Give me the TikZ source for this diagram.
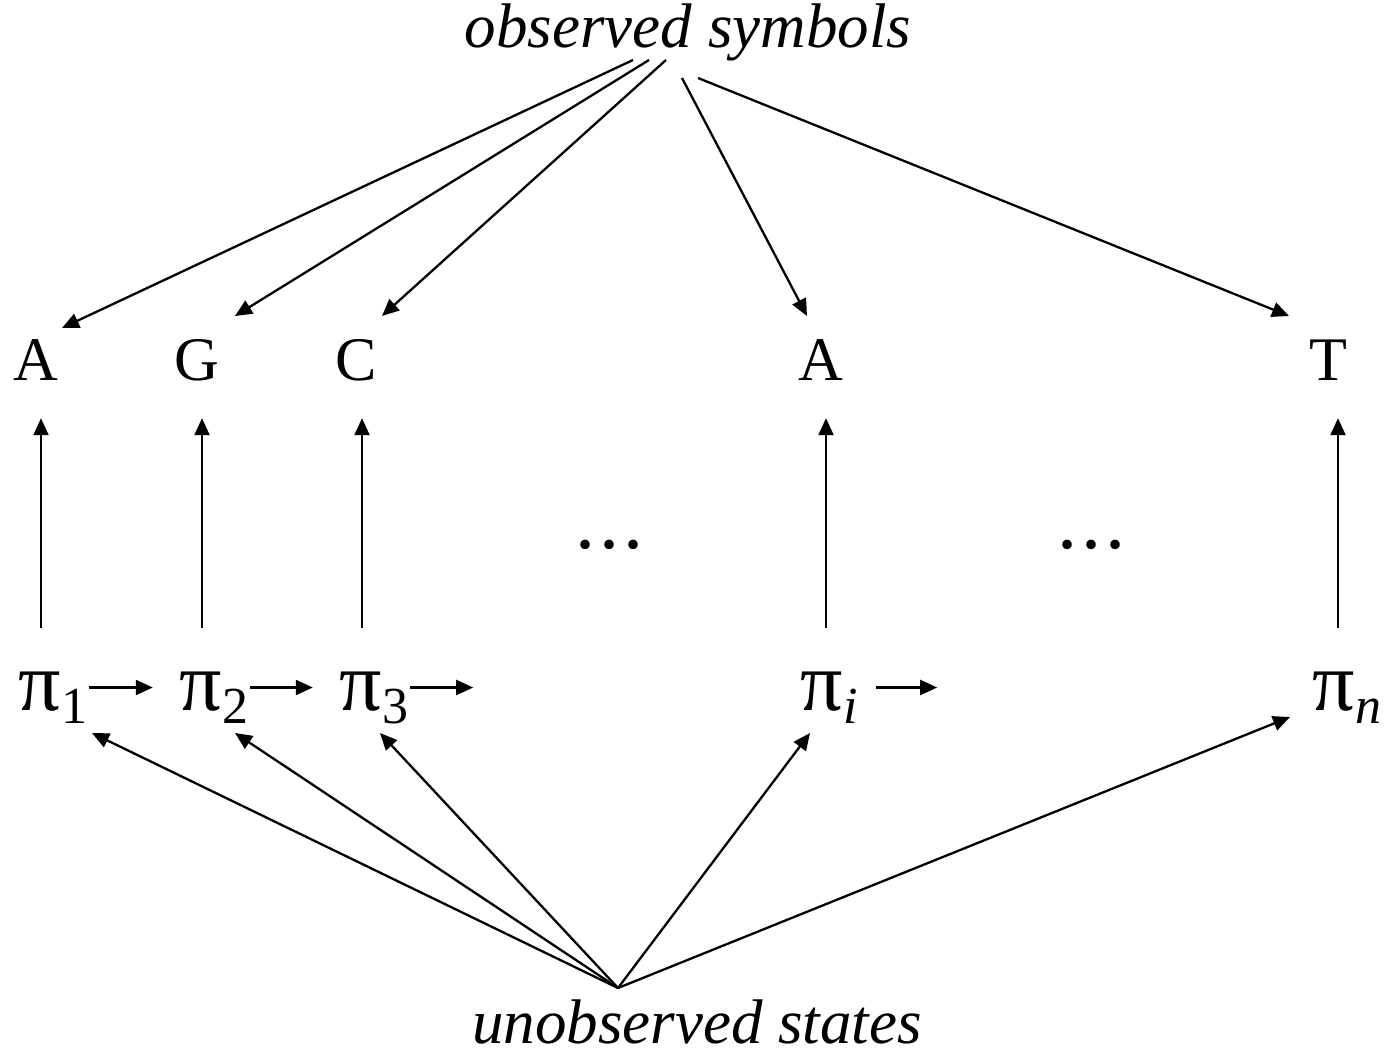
\documentclass[tikz,border=0pt]{standalone}
\usepackage{fontspec}
\setmainfont{Liberation Serif}
\usetikzlibrary{arrows.meta}
\newcommand\pisub[1]{π\rlap{\raisebox{-13pt}{\fontsize{52}{52}\selectfont #1}}}
\tikzset{
  arr/.style={line width=2.3pt, -{Triangle[length=17pt,width=15pt]}},
  letter/.style={font=\fontsize{62}{62}\selectfont, inner sep=0pt, text height=42pt, text depth=0pt, anchor=base},
  pinode/.style={font=\fontsize{84}{84}\selectfont, inner sep=0pt, text height=45pt, text depth=0pt, minimum width=50pt, anchor=base},
  lab/.style={font=\fontsize{63}{63}\selectfont\itshape, inner sep=0pt, anchor=base},
  dotsnode/.style={font=\fontsize{80}{80}\selectfont, inner sep=0pt, anchor=base}
}
\newcommand\threedots{.\hspace{4pt}.\hspace{4pt}.}
\begin{document}
\begin{tikzpicture}[x=1pt,y=-1pt]
\useasboundingbox (0,0) rectangle (1395,1054);
% labels
\node[lab] (obs) at (688,48) {observed symbols};
\node[lab] (uns) at (697,1043) {unobserved states};
% observed letters
\node[letter] (A1) at (36,380) {A};
\node[letter] (G)  at (197,380) {G};
\node[letter] (C)  at (356,380) {C};
\node[letter] (A2) at (821,380) {A};
\node[letter] (T)  at (1328,380) {T};
% states
\node[pinode] (p1) at (40,710) {\pisub{1}};
\node[pinode] (p2) at (201,710) {\pisub{2}};
\node[pinode] (p3) at (361,710) {\pisub{3}};
\node[pinode] (pi) at (822,710) {\pisub{\itshape i}};
\node[pinode] (pn) at (1334,710) {\pisub{\itshape n}};
% dots
\node[dotsnode] (d1) at (609,548) {\threedots};
\node[dotsnode] (d2) at (1091,548) {\threedots};
% free ends
\coordinate (n3) at ([xshift=87pt]p3.east);
\coordinate (ni) at ([xshift=90pt]pi.east);
\coordinate (conv) at ([shift={(-79,-55)}]uns.base);
% vertical emissions
\foreach \p/\l/\dx in {p1/A1/1, p2/G/1, p3/C/1, pi/A2/4, pn/T/4}{
  \draw[arr, shorten <=37pt, shorten >=38pt] ([xshift=\dx pt]\p.north) -- ([xshift=\dx pt]\p.north |- \l.south);
}
% transitions
\draw[arr, shorten <=24pt, shorten >=23pt] (p1.east) -- (p2.west);
\draw[arr, shorten <=24pt, shorten >=23pt] (p2.east) -- (p3.west);
\draw[arr, shorten <=24pt] (p3.east) -- (n3);
\draw[arr, shorten <=29pt] (pi.east) -- (ni);
% observed symbols arrows
\draw[arr] ([shift={(-55,12)}]obs.base) -- ([shift={(26,-52)}]A1.base);
\draw[arr] ([shift={(-39,12)}]obs.base) -- ([shift={(38,-64)}]G.base);
\draw[arr] ([shift={(-22,12)}]obs.base) -- ([shift={(26,-64)}]C.base);
\draw[arr] ([shift={(-6,30)}]obs.base) -- ([shift={(-14,-64)}]A2.base);
\draw[arr] ([shift={(10,30)}]obs.base) -- ([shift={(-39,-64)}]T.base);
% unobserved states arrows
\draw[arr] (conv) -- ([shift={(52,23)}]p1.base);
\draw[arr] (conv) -- ([shift={(34,23)}]p2.base);
\draw[arr] (conv) -- ([shift={(19,23)}]p3.base);
\draw[arr] (conv) -- ([shift={(-12,23)}]pi.base);
\draw[arr] (conv) -- ([shift={(-44,7)}]pn.base);
\end{tikzpicture}
\end{document}
